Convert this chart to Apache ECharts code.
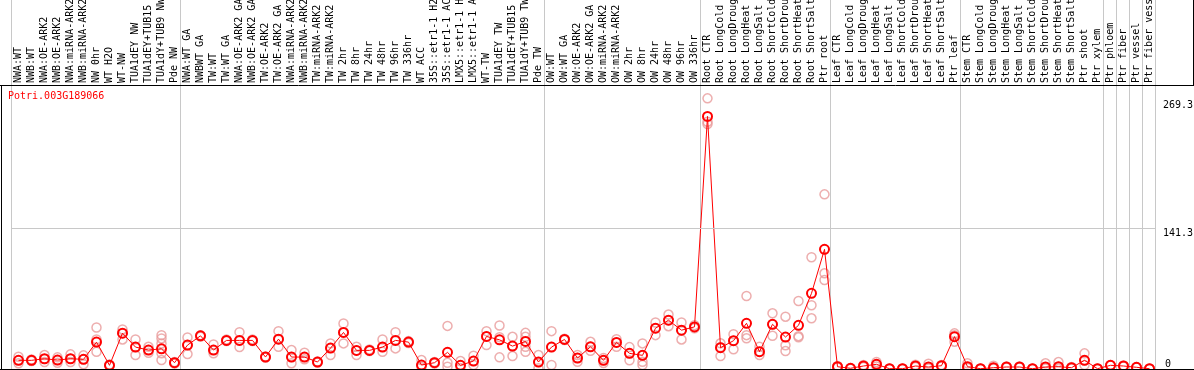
<!DOCTYPE html>
<html>
<head>
<meta charset="utf-8">
<script src="https://cdn.jsdelivr.net/npm/echarts@6/dist/echarts.min.js"></script>
<style>html,body{margin:0;padding:0;background:#fff}#c{width:1194px;height:370px}</style>
</head>
<body>
<div id="c"></div>
<script>
const geneName = 'Potri.003G189066';
const categories = [
 'NWA:WT','NWB:WT','NWA:OE-ARK2','NWB:OE-ARK2','NWA:miRNA-ARK2','NWB:miRNA-ARK2','NW 0hr','WT H2O','WT-NW','TUA1dEY NW','TUA1dEY+TUB15 NW','TUA1dY+TUB9 NW','Pde NW',
 'NWA:WT GA','NWBWT GA','TW:WT','TW:WT GA','NWA:OE-ARK2 GA','NWB:OE-ARK2 GA','TW:OE-ARK2','TW:OE-ARK2 GA','NWA:miRNA-ARK2 GA','NWB:miRNA-ARK2 GA','TW:miRNA-ARK2','TW:miRNA-ARK2 GA','TW 2hr','TW 8hr','TW 24hr','TW 48hr','TW 96hr','TW 336hr','WT ACC','35S::etr1-1 H2O','35S::etr1-1 ACC','LMX5::etr1-1 H2O','LMX5::etr1-1 ACC','WT-TW','TUA1dEY TW','TUA1dEY+TUB15 TW','TUA1dY+TUB9 TW','Pde TW',
 'OW:WT','OW:WT GA','OW:OE-ARK2','OW:OE-ARK2 GA','OW:miRNA-ARK2','OW:miRNA-ARK2','OW 2hr','OW 8hr','OW 24hr','OW 48hr','OW 96hr','OW 336hr',
 'Root CTR','Root LongCold','Root LongDrought','Root LongHeat','Root LongSalt','Root ShortCold','Root ShortDrought','Root ShortHeat','Root ShortSalt','Ptr root',
 'Leaf CTR','Leaf LongCold','Leaf LongDrought','Leaf LongHeat','Leaf LongSalt','Leaf ShortCold','Leaf ShortDrought','Leaf ShortHeat','Leaf ShortSalt','Ptr leaf',
 'Stem CTR','Stem LongCold','Stem LongDrought','Stem LongHeat','Stem LongSalt','Stem ShortCold','Stem ShortDrought','Stem ShortHeat','Stem ShortSalt','Ptr shoot',
 'Ptr xylem','Ptr phloem','Ptr fiber','Ptr vessel','Ptr fiber vessel'
];
const meanValues = [
 8.7,8.7,10.3,9,10.3,9.7,27,3.7,36,22,19,20.3,6.3,
 24,33.3,19,28.7,28.7,28.7,12,30,12,12,7,21,36.7,18.7,18.7,22,28.7,27,4,6.3,16.7,3.7,8,32.7,29.3,23,27.7,7,
 22,29.7,11,22.3,8.7,26.7,15.7,13.7,41,49,39,42.3,
 253.6,21.4,28.4,45.9,17.4,44.9,32.1,43.9,76,120.2,
 2.3,0.7,3,4.7,0.3,0.3,3,2,3.3,32.5,
 2.3,0.3,1.3,2,2,0.3,2,2.3,1.3,8.7,
 0.3,3.7,3,1.7,0.3
];
const replicateValues = [
 [12.3,8.7,5.7],[9.5,8.5,8],[14,10,7],[11.7,9,6.3],[14.7,10.3,7],[13.7,9.7,4.7],[41.7,29.7,17.3],[4.5,3.5,3],[39.7,36,29.7],[29.7,22,14],[22.3,19,16.3],[34,30.7,25.7,15.7,9],[7,6.3,5.5],
 [31.7,24,15],[34,33.3,32.5],[24.7,19,15.7],[29.5,28.7,28],[37,28.7,22],[29.5,28.7,28],[12.5,12,11.5],[38,30,22.3],[19,12,5.7],[16.3,12,9.7],[7.5,7,6.5],[25.7,21,14],[45.7,36.7,25.7],[22.3,18.7,14],[19.5,18.7,18],[29.7,22,17.3],[37,28.7,20.7],[28,27,26],[9,4,2],[7,6.3,5.5],[43.3,6.3,2.3],[8,3.7,1],[13.3,8,4],[38,32.7,24],[43.7,32,11.7],[32.3,23,13],[36.3,32.3,22.3,17.3],[14,7,0.7],
 [38,22,4],[30.5,29.7,29],[14,11,7.3],[27.3,22.3,18.3],[11,8.7,6],[30,26.7,22.3],[22,15.7,8.7],[25.7,13.7,7.3,4],[46.7,41,34],[54.7,49,43],[46.7,39,29.7],[44,42.3,41],
 [271.8,248.3,246],[25.8,22,13],[35,28.4,19.8],[73.3,34,30.8],[22.4,17.4,14],[55.9,44.9,33.4],[52.5,23.8,18],[68.3,33,31.8],[112.2,64,50.9],[175.4,96.1,89.4],
 [3,2.3,1.5],[1,0.7,0.3],[4,3,2],[7,4.7,2.5],[0.5,0.3,0],[0.5,0.3,0],[4.2,3,2],[5.3,2,0.5],[4,3.3,2.5],[35.8,34,27.4],
 [5.7,2.3,1],[0.5,0.3,0],[3.3,1.3,0.5],[2.5,2,1.5],[2.5,2,1.5],[0.5,0.3,0],[5.7,2,0.5],[7,2.3,0.5],[2,1.3,0.5],[15.7,8.7,4],
 [0.5,0.3,0],[4,3.7,3.5],[3.5,3,2.5],[2,1.7,1.5],[0.5,0.3,0]
];
const groupStarts = [0,13,41,53,63,73,84,85,86,87,88];
const yTickLabels = [141.3, 269.3];
const yGridLines = [141.3];
const yZeroLabel = [0];
const yMax = 285.2;

const mono = 'DejaVu Sans Mono';
const repData = [];
replicateValues.forEach((arr, i) => arr.forEach(v => repData.push([i, v])));

const chart = echarts.init(document.getElementById('c'), null, {renderer: 'canvas'});
chart.setOption({
  animation: false,
  backgroundColor: '#fff',
  title: {
    text: geneName, left: 3, top: 86,
    textStyle: {fontFamily: mono, fontSize: 10, fontWeight: 'normal', color: '#ff0000'}
  },
  grid: {left: 12, top: 85, width: 1144, height: 284, containLabel: false, outerBoundsMode: 'none'},
  xAxis: {
    type: 'category', data: categories, position: 'top', boundaryGap: true,
    axisLine: {show: false}, axisTick: {show: false}, splitLine: {show: false},
    axisLabel: {interval: 0, rotate: 90, margin: 2, align: 'left', verticalAlign: 'middle', hideOverlap: false,
      fontFamily: mono, fontSize: 10, color: '#000'}
  },
  yAxis: [{
    type: 'value', min: 0, max: yMax, position: 'right',
    axisLine: {show: false}, axisTick: {show: false}, splitLine: {show: false},
    axisLabel: {customValues: yTickLabels, margin: 7, verticalAlign: 'top', fontFamily: mono, fontSize: 10, color: '#000',
      formatter: v => String(v)}
  }, {
    type: 'value', min: 0, max: yMax, position: 'right',
    axisLine: {show: false}, axisTick: {show: false}, splitLine: {show: false},
    axisLabel: {customValues: yZeroLabel, margin: 9, verticalAlign: 'bottom', fontFamily: mono, fontSize: 10, color: '#000',
      formatter: v => String(v)}
  }],
  series: [{
    type: 'custom', silent: true, clip: false, z: 1,
    data: groupStarts.map(g => [g]),
    renderItem: (params, api) => {
      const i = api.value(0);
      const last = categories.length - 1;
      const c = api.coord([Math.min(i, last), 0]);
      const bw = api.size([1, 0])[0];
      const x = Math.round(i > last ? c[0] + bw / 2 : c[0] - bw / 2) - 0.5;
      return {type: 'line', shape: {x1: x, y1: 0, x2: x, y2: c[1]}, style: {stroke: '#c8c8c8', lineWidth: 1}};
    }
  }, {
    type: 'scatter', data: repData, symbol: 'circle', symbolSize: 9, z: 2, silent: true,
    itemStyle: {color: 'rgba(0,0,0,0)', borderColor: '#e89a9a', borderWidth: 1.5}
  }, {
    type: 'line', data: meanValues, symbol: 'circle', symbolSize: 9, z: 3, silent: true,
    lineStyle: {color: '#ff0000', width: 1},
    itemStyle: {color: 'rgba(0,0,0,0)', borderColor: '#ff0000', borderWidth: 2},
    markLine: {
      silent: true, symbol: 'none', label: {show: false},
      lineStyle: {color: '#c8c8c8', width: 1, type: 'solid'},
      data: yGridLines.map(v => ({yAxis: v}))
    }
  }],
  graphic: [
    {type: 'line', shape: {x1: 0, y1: 85.5, x2: 1194, y2: 85.5}, style: {stroke: '#000', lineWidth: 1}, z: 10},
    {type: 'line', shape: {x1: 1.5, y1: 85, x2: 1.5, y2: 370}, style: {stroke: '#000', lineWidth: 1}, z: 10},
    {type: 'line', shape: {x1: 0, y1: 369.5, x2: 1194, y2: 369.5}, style: {stroke: '#000', lineWidth: 1}, z: 10},
    {type: 'line', shape: {x1: 1193.5, y1: 0, x2: 1193.5, y2: 85}, style: {stroke: '#000', lineWidth: 1}, z: 10}
  ]
});
</script>
</body>
</html>
